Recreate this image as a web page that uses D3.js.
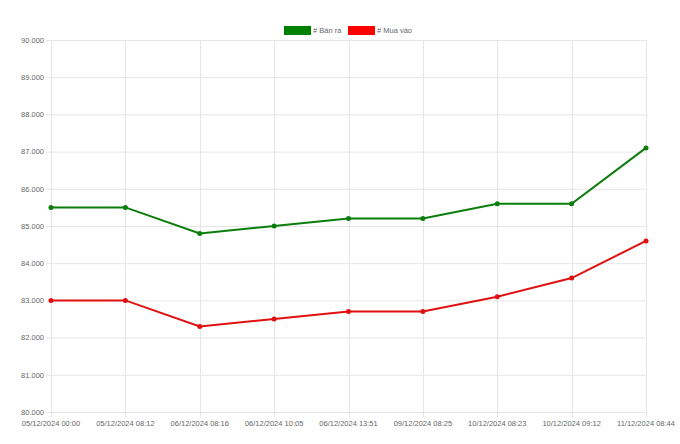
<!DOCTYPE html>
<html><head><meta charset="utf-8">
<script src="https://cdn.jsdelivr.net/npm/d3@7"></script>
<style>body{margin:0;background:#fff}svg{display:block}</style>
</head><body>
<svg id="c" width="680" height="444"></svg>
<script>
const categories = ["05/12/2024 00:00","05/12/2024 08:12","06/12/2024 08:16","06/12/2024 10:05","06/12/2024 13:51","09/12/2024 08:25","10/12/2024 08:23","10/12/2024 09:12","11/12/2024 08:44"];
const banRa = [85.5,85.5,84.8,85.0,85.2,85.2,85.6,85.6,87.1];
const muaVao = [83.0,83.0,82.3,82.5,82.7,82.7,83.1,83.6,84.6];
const yTicks = [80,81,82,83,84,85,86,87,88,89,90];
const seriesNames = ["# Bán ra","# Mua vào"];
const colors = ["#0a7d0a","#e01010"];
const legendColors = ["#008000","#ff0000"];

const svg = d3.select("#c");
const font = "'Liberation Sans', Arial, sans-serif";
const L=51, R=646, T=40, B=412;
const x = d3.scalePoint().domain(categories).range([L,R]);
const y = d3.scaleLinear().domain([80,90]).range([B,T]);
const fmt = v => d3.format(".3f")(v).replace(",", ".");

// grid
const g = svg.append("g");
g.selectAll(".hy").data(yTicks).join("line")
  .attr("x1",L-5).attr("x2",R).attr("y1",d=>y(d)+0.5).attr("y2",d=>y(d)+0.5)
  .attr("stroke","#e6e6e6").attr("stroke-width",1);
g.selectAll(".vx").data(categories).join("line")
  .attr("x1",d=>Math.round(x(d))+0.5).attr("x2",d=>Math.round(x(d))+0.5).attr("y1",T).attr("y2",B+5)
  .attr("stroke","#e6e6e6").attr("stroke-width",1);

// y labels
g.selectAll(".yl").data(yTicks).join("text")
  .attr("x",L-7).attr("y",d=>y(d)+2.8).attr("text-anchor","end")
  .attr("font-family",font).attr("font-size",7.5).attr("fill","#666")
  .text(d=>fmt(d));
// x labels
g.selectAll(".xl").data(categories).join("text")
  .attr("x",d=>x(d)).attr("y",B+14).attr("text-anchor","middle")
  .attr("font-family",font).attr("font-size",7.5).attr("fill","#666")
  .text(d=>d);

const line = d3.line().x((d,i)=>x(categories[i])).y(d=>y(d));
[banRa, muaVao].forEach((s,k)=>{
  svg.append("path").datum(s).attr("d",line).attr("fill","none")
    .attr("stroke",colors[k]).attr("stroke-width",2);
  svg.append("g").selectAll("circle").data(s).join("circle")
    .attr("cx",(d,i)=>x(categories[i])).attr("cy",d=>y(d)).attr("r",2.5)
    .attr("fill",colors[k]);
});

// legend
const lg = [{x:284,tx:313},{x:348,tx:377}];
seriesNames.forEach((n,k)=>{
  svg.append("rect").attr("x",lg[k].x).attr("y",26).attr("width",27).attr("height",9)
    .attr("fill",legendColors[k]);
  svg.append("text").attr("x",lg[k].tx).attr("y",33.2)
    .attr("font-family",font).attr("font-size",7.5).attr("fill","#666").text(n);
});
</script>
</body></html>
